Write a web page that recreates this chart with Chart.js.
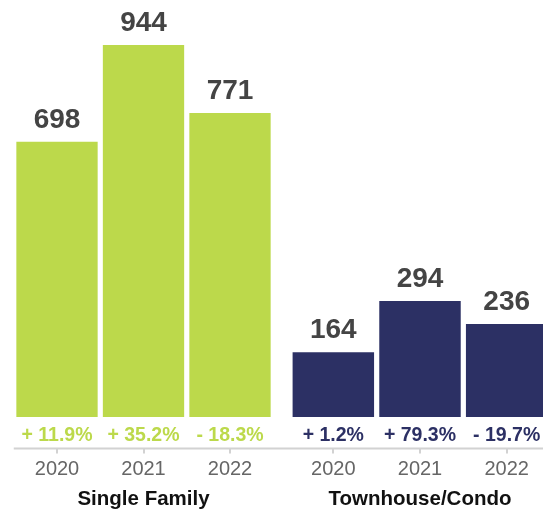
<!DOCTYPE html>
<html>
<head>
<meta charset="utf-8">
<script src="https://cdn.jsdelivr.net/npm/chart.js@4.4.1/dist/chart.umd.min.js"></script>
<style>
  html, body { margin: 0; padding: 0; background: #fff; overflow: hidden; }
  body { width: 543px; height: 514px; position: relative; }
  .panel { position: absolute; top: 0; height: 514px; }
  #sf-wrap { left: 0; width: 282px; }
  #tc-wrap { left: 282px; width: 276px; }
</style>
</head>
<body>
<div class="panel" id="sf-wrap"><canvas id="sf-chart"></canvas></div>
<div class="panel" id="tc-wrap"><canvas id="tc-chart"></canvas></div>
<script>
const years = ['2020', '2021', '2022'];
const singleFamily = [698, 944, 771];
const singleFamilyChange = ['+ 11.9%', '+ 35.2%', '- 18.3%'];
const townhouseCondo = [164, 294, 236];
const townhouseCondoChange = ['+ 1.2%', '+ 79.3%', '- 19.7%'];

const FONT = '"Liberation Sans", Arial, Helvetica, sans-serif';
const GREEN = '#bcd94b';
const NAVY = '#2c3064';

// value above each bar, % change under it, and the shared baseline rule
const barText = {
  id: 'barText',
  afterDatasetsDraw(chart, args, opts) {
    const { ctx, chartArea } = chart;
    const meta = chart.getDatasetMeta(0);
    const values = chart.data.datasets[0].data;
    const y0 = chart.scales.y.getPixelForValue(0);
    ctx.save();
    ctx.textAlign = 'center';
    ctx.textBaseline = 'alphabetic';
    meta.data.forEach((bar, i) => {
      ctx.font = 'bold 28px ' + FONT;
      ctx.fillStyle = '#444';
      ctx.fillText(values[i], bar.x, bar.y - 14);
      ctx.font = 'bold 19.5px ' + FONT;
      ctx.fillStyle = opts.color;
      ctx.fillText(opts.changes[i], bar.x, y0 + 24);
    });
    ctx.strokeStyle = '#d2d2d2';
    ctx.lineWidth = 2;
    ctx.beginPath();
    ctx.moveTo(opts.fromEdge ? 0 : chartArea.left, chartArea.bottom);
    ctx.lineTo(chart.width, chartArea.bottom);
    ctx.stroke();
    ctx.restore();
  }
};

function groupChart(id, values, changes, color, title, pad, fromEdge) {
  return new Chart(document.getElementById(id), {
    type: 'bar',
    data: {
      labels: years,
      datasets: [{ data: values, backgroundColor: color, borderWidth: 0,
        categoryPercentage: 1, barPercentage: 0.94 }]
    },
    options: {
      responsive: true,
      maintainAspectRatio: false,
      animation: false,
      layout: { padding: { left: pad.left, right: pad.right, top: 0, bottom: 0 } },
      plugins: {
        legend: { display: false },
        tooltip: { enabled: false },
        barText: { changes, color, fromEdge }
      },
      scales: {
        y: { display: false, min: -80, max: 1058 },
        x: {
          border: { display: false },
          grid: { offset: false, drawOnChartArea: false, drawTicks: true,
            tickLength: 5, color: '#d2d2d2', lineWidth: 2 },
          ticks: { color: '#666', padding: 4, font: { family: FONT, size: 20 } },
          title: { display: true, text: title, color: '#111',
            font: { family: FONT, size: 20.5, weight: 'bold' },
            padding: { top: 2, bottom: 2 } }
        }
      }
    },
    plugins: [barText]
  });
}

groupChart('sf-chart', singleFamily, singleFamilyChange, GREEN, 'Single Family',
  { left: 13.75, right: 8.75 }, false);
groupChart('tc-chart', townhouseCondo, townhouseCondoChange, NAVY, 'Townhouse/Condo',
  { left: 8, right: 8 }, true);
</script>
</body>
</html>
